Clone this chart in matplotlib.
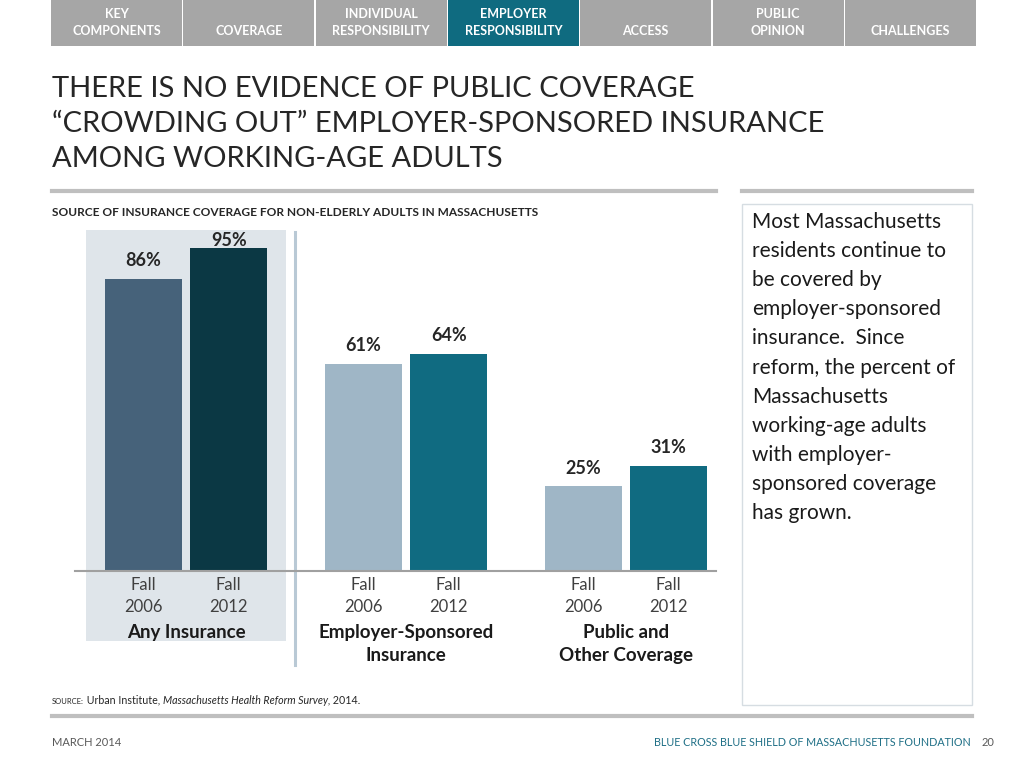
import matplotlib.pyplot as plt
from matplotlib.patches import Rectangle
from matplotlib.lines import Line2D

plt.rcParams['font.family'] = ['Lato', 'DejaVu Sans']

# data
tabs = ["KEY\nCOMPONENTS", "COVERAGE", "INDIVIDUAL\nRESPONSIBILITY", "EMPLOYER\nRESPONSIBILITY",
        "ACCESS", "PUBLIC\nOPINION", "CHALLENGES"]
active_tab = 3
groups = ["Any Insurance", "Employer-Sponsored\nInsurance", "Public and\nOther Coverage"]
years = ["Fall\n2006", "Fall\n2012"]
values_2006 = [86, 61, 25]
values_2012 = [95, 64, 31]

title = ("THERE IS NO EVIDENCE OF PUBLIC COVERAGE\n"
         "\u201cCROWDING OUT\u201d EMPLOYER-SPONSORED INSURANCE\n"
         "AMONG WORKING-AGE ADULTS")
subtitle = "SOURCE OF INSURANCE COVERAGE FOR NON-ELDERLY ADULTS IN MASSACHUSETTS"
side_text = ("Most Massachusetts\nresidents continue to\nbe covered by\nemployer-sponsored\n"
             "insurance.  Since\nreform, the percent of\nMassachusetts\nworking-age adults\n"
             "with employer-\nsponsored coverage\nhas grown.")

W, H = 1024, 768


def fx(x):
    return x / W


def fy(y):
    return 1 - y / H


fig = plt.figure(figsize=(10.24, 7.68), dpi=100)

# ---- nav tabs
tab_left, tab_w, tab_step = 51, 131, 132.3
for i, t in enumerate(tabs):
    x0 = tab_left + i * tab_step
    col = '#0f6b80' if i == active_tab else '#a6a6a6'
    fig.add_artist(Rectangle((fx(x0), fy(46)), tab_w / W, 46 / H, transform=fig.transFigure,
                             facecolor=col, edgecolor='none'))
    lines = t.split("\n")
    if len(lines) == 1:
        lines = ["", lines[0]]
    for j, ln in enumerate(lines):
        fig.text(fx(x0 + tab_w / 2), fy(14 + 17 * j), ln, ha='center', va='center',
                 color='white', fontsize=9, fontweight='bold')

# ---- title
fig.text(fx(52), fy(76), title, ha='left', va='top', fontsize=21, color='#262626',
         linespacing=1.42)
fig.add_artist(Line2D([fx(52), fx(716)], [fy(191), fy(191)], transform=fig.transFigure,
                      color='#bfbfbf', lw=3))
fig.add_artist(Line2D([fx(742), fx(972)], [fy(191), fy(191)], transform=fig.transFigure,
                      color='#bfbfbf', lw=3))
fig.text(fx(52), fy(213), subtitle, ha='left', va='center', fontsize=8.6, fontweight='bold',
         color='#262626')

# ---- side box
fig.add_artist(Rectangle((fx(742), fy(705)), 230 / W, 501 / H, transform=fig.transFigure,
                         facecolor='none', edgecolor='#d6dde2', lw=1))
fig.text(fx(752), fy(212), side_text, ha='left', va='top', fontsize=15, color='#1a1a1a',
         linespacing=1.57)

# ---- chart
ax = fig.add_axes([fx(75), fy(571), (716 - 75) / W, (571 - 231.5) / H])
pitch_px = 85.5
gap = 220 / pitch_px
ax.set_xlim((75 - 186) / pitch_px, (716 - 186) / pitch_px)
ax.set_ylim(0, 100)

colors_2006 = ['#46627a', '#9fb6c6', '#9fb6c6']
colors_2012 = ['#0b3844', '#106b81', '#106b81']
label_pad = [[13, 6], [13, 13], [13, 13]]
centers = [g * gap for g in range(len(groups))]

# highlight panel and separator
ax.add_patch(Rectangle((-1.17, -20.6), 2.34, 121, facecolor='#dfe5ea', edgecolor='none',
                       clip_on=False, zorder=0))
ax.add_line(Line2D([1.275, 1.275], [-27.7, 99.9], color='#b9c9d5', lw=2.2, clip_on=False,
                   zorder=0))

xs, labels = [], []
for g, c in enumerate(centers):
    for k, (v, col) in enumerate([(values_2006[g], colors_2006[g]), (values_2012[g], colors_2012[g])]):
        x = c - 0.5 + k
        ax.bar(x, v, width=0.9, color=col, zorder=2)
        ax.annotate(f"{v}%", (x, v), xytext=(0, label_pad[g][k]), textcoords='offset points',
                    ha='center', va='center', fontsize=13, fontweight='bold', color='#262626')
        xs.append(x)
        labels.append(years[k])
    ax.annotate(groups[g], (c, 0), xycoords=('data', 'axes fraction'), xytext=(0, -38.5),
                textcoords='offset points', ha='center', va='top', fontsize=13.5,
                fontweight='bold', color='#1a1a1a', linespacing=1.4)

ax.set_xticks(xs)
ax.set_xticklabels(labels, fontsize=12, color='#404040', linespacing=1.45)
ax.tick_params(axis='x', length=0, pad=4.5)
ax.set_yticks([])
for s in ['top', 'left', 'right']:
    ax.spines[s].set_visible(False)
ax.spines['bottom'].set_color('#a0a0a0')
ax.spines['bottom'].set_linewidth(1.5)
ax.patch.set_visible(False)

# ---- source line
src = fig.text(fx(52), fy(702), "SOURCE:", ha='left', va='center', fontsize=5.5, color='#262626')
a1 = plt.annotate(" Urban Institute, ", xy=(1, 0), xycoords=src, va='bottom', fontsize=7.7,
                  color='#262626', annotation_clip=False)
a2 = plt.annotate("Massachusetts Health Reform Survey,", xy=(1, 0), xycoords=a1, va='bottom',
                  fontsize=7.7, style='italic', color='#262626', annotation_clip=False)
plt.annotate(" 2014.", xy=(1, 0), xycoords=a2, va='bottom', fontsize=7.7, color='#262626',
             annotation_clip=False)

# ---- footer
fig.add_artist(Line2D([fx(52), fx(972)], [fy(716), fy(716)], transform=fig.transFigure,
                      color='#bfbfbf', lw=3))
fig.text(fx(52), fy(742), "MARCH 2014", ha='left', va='center', fontsize=8, color='#595959')
fig.text(fx(971), fy(742), "BLUE CROSS BLUE SHIELD OF MASSACHUSETTS FOUNDATION", ha='right',
         va='center', fontsize=7.75, color='#1f6f86')
fig.text(fx(982), fy(742), "20", ha='left', va='center', fontsize=8, color='#595959')

fig.savefig("out.png", dpi=100)
